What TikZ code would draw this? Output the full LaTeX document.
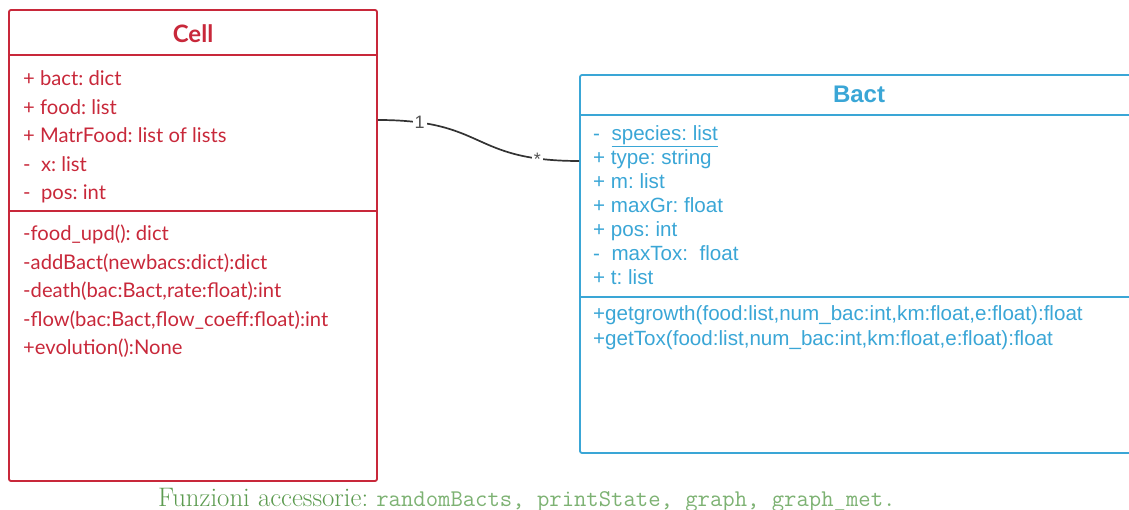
\documentclass[tikz,border=0pt]{standalone}
\usepackage{fontspec}
\newfontfamily\latofont{Lato}
\newfontfamily\arialfont{Liberation Sans}
\definecolor{cellred}{RGB}{200,40,58}
\definecolor{bactblue}{RGB}{58,166,214}
\definecolor{connc}{RGB}{51,51,51}
\definecolor{footgreen}{RGB}{92,155,80}
\definecolor{footgreenlt}{RGB}{125,178,115}
\tikzset{
  cellbox/.style={draw=cellred, line width=1.8pt, rounded corners=2pt, rectangle, inner sep=0pt},
  bactbox/.style={draw=bactblue, line width=1.8pt, rounded corners=2pt, rectangle, inner sep=0pt},
  celltxt/.style={anchor=base west, inner sep=0pt, text=cellred, font=\latofont\fontsize{20.2}{24}\selectfont},
  celltitle/.style={anchor=base, inner sep=0pt, text=cellred, font=\latofont\bfseries\fontsize{24}{28}\selectfont},
  bacttxt/.style={anchor=base west, inner sep=0pt, text=bactblue, font=\arialfont\fontsize{20.6}{24}\selectfont},
  bacttitle/.style={anchor=base, inner sep=0pt, text=bactblue, font=\arialfont\bfseries\fontsize{24}{28}\selectfont},
  mult/.style={fill=white, inner sep=2pt, text=connc!85, font=\arialfont\fontsize{18}{20}\selectfont},
  conn/.style={draw=connc, line width=1.7pt},
  cellsep/.style={draw=cellred, line width=1.8pt},
  bactsep/.style={draw=bactblue, line width=1.8pt},
  foottxt/.style={anchor=base west, inner sep=0pt, text=footgreen, font=\fontsize{26.8}{30}\selectfont},
}
\begin{document}
\frenchspacing
\begin{tikzpicture}[x=1pt,y=-1pt]
\useasboundingbox (0,0) rectangle (1129,510);
% Cell class
\node[cellbox, minimum width=368pt, minimum height=471pt] (cell) at (193,245.5) {};
\draw[cellsep] (cell.west |- 0,55) coordinate (cs1) -- (cell.east |- 0,55) coordinate (cs2);
\draw[cellsep] (cell.west |- 0,211) coordinate (cs3) -- (cell.east |- 0,211) coordinate (cs4);
\node[celltitle] (celltitle) at (193,43) {Cell};
\node[celltxt] (ca1) at (23,86) {+ bact: dict};
\node[celltxt] (ca2) at (23,114.5) {+ food: list};
\node[celltxt] (ca3) at (23,143) {+ MatrFood: list of lists};
\node[celltxt] (ca4) at (23,171.5) {-\ \ x: list};
\node[celltxt] (ca5) at (23,200) {-\ \ pos: int};
\node[celltxt] (cm1) at (23,241) {-food\_upd(): dict};
\node[celltxt] (cm2) at (23,269.5) {-addBact(newbacs:dict):dict};
\node[celltxt] (cm3) at (23,298) {-death(bac:Bact,rate:float):int};
\node[celltxt] (cm4) at (23,326.5) {-flow(bac:Bact,flow\_coeff:float):int};
\node[celltxt] (cm5) at (23,355) {+evolution():None};
% Bact class
\node[bactbox, minimum width=560pt, minimum height=378pt] (bact) at (860,264) {};
\draw[bactsep] (bact.west |- 0,115) coordinate (bs1) -- (bact.east |- 0,115) coordinate (bs2);
\draw[bactsep] (bact.west |- 0,297) coordinate (bs3) -- (bact.east |- 0,297) coordinate (bs4);
\node[bacttitle] (bacttitle) at (859,103) {Bact};
\node[bacttxt] (ba1) at (593,141) {-\ \ \underline{species: list}};
\node[bacttxt] (ba2) at (593,165) {+ type: string};
\node[bacttxt] (ba3) at (593,189) {+ m: list};
\node[bacttxt] (ba4) at (593,213) {+ maxGr: float};
\node[bacttxt] (ba5) at (593,237) {+ pos: int};
\node[bacttxt] (ba6) at (593,261) {-\ \ maxTox:\ \ float};
\node[bacttxt] (ba7) at (593,285) {+ t: list};
\node[bacttxt] (bm1) at (593,321) {+getgrowth(food:list,num\_bac:int,km:float,e:float):float};
\node[bacttxt] (bm2) at (593,345) {+getTox(food:list,num\_bac:int,km:float,e:float):float};
% association
\coordinate (cconn) at (cell.east |- 0,120);
\coordinate (bconn) at (bact.west |- 0,161);
\draw[conn] (cconn) .. controls +(110,0) and +(-110,0) .. (bconn)
  node[mult, pos=0.15] (m1) {1}
  node[mult, pos=0.85, yshift=-1pt] (m2) {*};
% footer
\node[foottxt] (foot) at (158,506)
  {Funzioni accessorie: {\ttfamily\fontsize{24}{28}\selectfont\color{footgreenlt}randomBacts, printState, graph, graph\_met.}};
\end{tikzpicture}
\end{document}
